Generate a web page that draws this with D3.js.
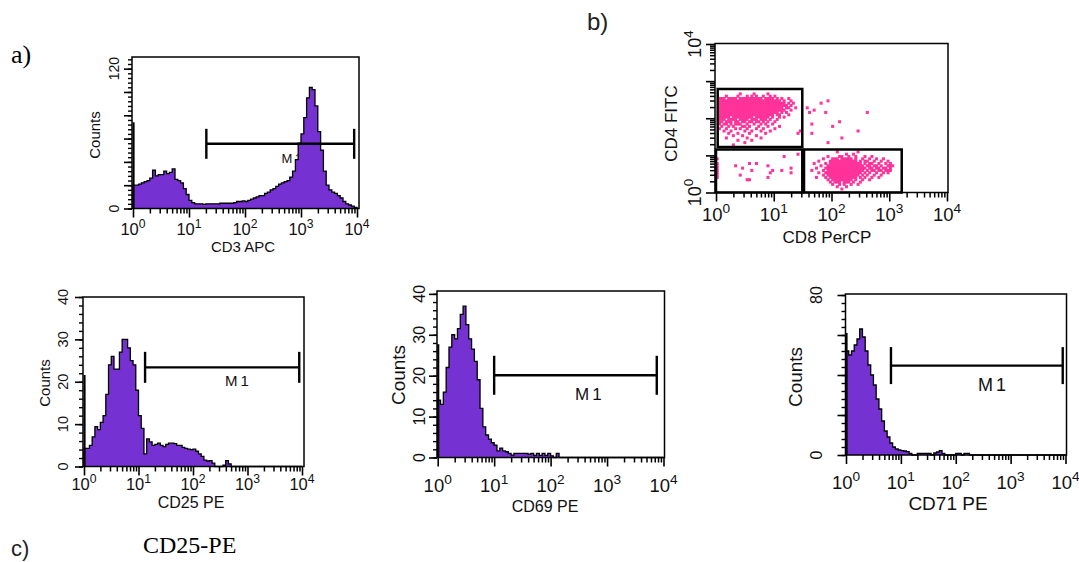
<!DOCTYPE html>
<html>
<head>
<meta charset="utf-8">
<script src="https://cdn.jsdelivr.net/npm/d3@7/dist/d3.min.js"></script>
<style>
html,body{margin:0;padding:0;background:#fff;}
svg{display:block;font-family:"Liberation Sans",Arial,Helvetica,sans-serif;}
</style>
</head>
<body>
<svg id="fig" width="1079" height="562"></svg>
<script>
// ================= DATA =================
const decades = [1, 10, 100, 1000, 10000];
const binLogWidth = 0.05; // each histogram bin spans 0.05 decade (80 bins over 4 decades)

const cd3Counts = [20,20,21,22,23,24,26,33,28,29,29,32,30,31,34,25,24,22,17,12,
  7,5,4,4,4,3.5,4,4,4,4,4,4.5,4.5,4.5,4.5,4.5,5,6,6,6.5,
  6,7,8,9,10,11,11,13,14,16,17,19,21,22,23,24,27,32,42,56,
  64,78,95,104,102,88,66,50,32,20,16,14,13,11,9,6,4,3,2,1];
const cd25Counts = [4.3,4.3,5,7,9.4,8.7,10.4,12,17,24,26,23,23,27,30,30,28,25,24,18,
  12,9,3,6.5,5.8,5,5.2,5.5,5,4.7,5.2,5.5,5.5,5.4,5,5,4.5,4.3,4.1,4,
  4.1,3.6,3,2.4,1.5,1.3,1.4,0.8,0,0,0,0.3,1.4,0.6,0,0,0,0,0,0,
  0,0,0,0,0,0,0,0,0,0,0,0,0,0,0,0,0,0,0,0];
const cd69Counts = [14,13,16,22,27,30,29,31.5,35,37,32.5,29,26.5,23.5,19,12,7.5,5.5,4.5,3.6,
  3,1.6,2.3,1.6,1.4,1,0.6,1,1,1,1,1,0.8,1,0.5,1,0.5,1,0.5,1,
  0.4,0,1,0,0,0,0,0,0,0,0,0,0,0,0,0,0,0,0,0,
  0,0,0,0,0,0,0,0,0,0,0,0,0,0,0,0,0,0,0,0];
const cd71Counts = [52,50,52,55,58,63,59,52,45,40,35,28,23,17,12,9,6,4,3,2.5,
  2.2,2,1.7,0.8,0,0,0.8,0.8,0.8,0.8,0.8,0,1,1.5,2.2,0.8,0,0,0,0,
  0.8,0.8,0,0.8,0.8,0,0,0,0,0,0,0,0,0,0,0,0,0,0,0,
  0,0,0,0,0,0,0,0,0,0,0,0,0,0,0,0,0,0,0,0];
const firstChannelCounts = [74, 21.6, 27.7, 61];

const cd3YLabels = [0, 120];
const cd25YLabels = [0, 10, 20, 30, 40];
const cd69YLabels = [0, 10, 20, 30, 40];
const cd71YLabels = [0, 80];
const histTitles = ["CD3 APC", "CD25 PE", "CD69 PE", "CD71 PE"];

const markerStart = [20.4, 13.2, 10, 6.6];
const markerEnd = [8900, 8900, 7600, 8900];
const markerLevel = [55.5, 23.4, 20.1, 44.7];

// dot plot (CD8 PerCP vs CD4 FITC): gates and occupied channels
const gateCd8 = [[1.07, 31.2], [1, 31.2], [33.4, 1644]];
const gateCd4 = [[16.8, 614], [1, 14.4], [1, 14.4]];
const cd4YLabels = [1, 10000];
const dotCellLog = [0.04, 0.0625]; // channel width in decades (CD8, CD4)
// [CD4 channel row, first CD8 channel, occupancy pattern]
const dotRows = [
  [42, 10, "#.....#.....#"],
  [41, 4, "#....#...#.#.#..#..#.#"],
  [40, 1, "###.####.##########.####.#.#..#"],
  [39, 1, "###########################.#..#"], [39, 48, "#"],
  [38, 1, "#############################.#.#"], [38, 45, "#"],
  [37, 1, "##############################.#"],
  [36, 1, "############################.##..#"], [36, 39, "#"],
  [35, 1, "#############################..#"], [35, 42, "#"],
  [34, 1, "##########################.#.#"], [34, 40, "#......#"], [34, 65, "#"],
  [33, 1, "########################.##...#"],
  [32, 1, "#####.#########.######.#..#.#"],
  [31, 1, "###.####.####.###.###.#..#"],
  [30, 1, "##.###.##.##.##.##.#.#..#"], [30, 53, "#"],
  [29, 1, "#.##.#.###..#..#..#.#..#"], [29, 41, "#"],
  [28, 2, "#..#.#...##.#...#...#....#"], [28, 50, "#"],
  [27, 1, "#..#...#.#..#...#..#....#"],
  [26, 3, "#..#.....#..#...#...#"], [26, 36, "#"], [26, 61, "#"],
  [25, 5, "#...#....#......#"], [25, 35, "#.....#"],
  [24, 7, "#...#.....#"],
  [23, 4, "#........#.....#"], [23, 54, "#"],
  [22, 9, "#.....#"],
  [21, 12, "#"], [21, 48, "#"],
  [20, 7, "#"],
  [17, 52, "#........#"],
  [16, 35, "#"], [16, 56, "#..#"],
  [15, 29, "#"], [15, 48, "#....##..#..#...#..#"],
  [14, 0, "#"], [14, 46, "#...###.#####.#..#..#..#..#"],
  [13, 44, "#....############.#.##..#..#..#"],
  [12, 0, "#"], [12, 14, "#..#"], [12, 42, "#....#.##############.#.##..#..#.#"],
  [11, 0, "#.......#"], [11, 22, "#"], [11, 45, "#..################.##.##.#..###"],
  [10, 0, "#..........#"], [10, 32, "#"], [10, 43, "#...##################.##.##.##.#"],
  [9, 0, "#"], [9, 15, "#........#...#"], [9, 41, "#....#.################.#.##.##.###"],
  [8, 0, "#"], [8, 23, "#........#"], [8, 44, "#..################.#.#..#..#.#"],
  [7, 0, "#.........#"], [7, 46, "#.##############.#.#..#..#"],
  [6, 0, "#"], [6, 22, "#"], [6, 43, "#...#.############.#.#..#..#"],
  [5, 13, "##"], [5, 48, "#.#########.#..#..#"],
  [4, 49, "#.###.###.#..#"],
  [3, 50, "#..#.#..#..#"],
  [2, 52, "#...#"],
  [1, 54, "#"]
];

// ================= LAYOUT =================
const PURPLE = "#7631d2", PINK = "#ff3399", INK = "#111";
const histLayouts = [
  {x0:133,x1:357,bx0:132,bx1:359,yb:208.5,yt:57,ymax:130,yMajor:20,yMinor:4,xlabY:235,xfs:16.5,ylabX:118.5,yfs:14,cntX:100,cntY:135,cntFs:15,titX:243,titY:252,titFs:15,mx:281.5,my:163.3,mfs:13,mls:2.5,mh:15},
  {x0:84,x1:302,bx0:83,bx1:304,yb:466.5,yt:297,ymax:40,yMajor:10,yMinor:2,xlabY:490,xfs:16.5,ylabX:68,yfs:14.5,cntX:50,cntY:383,cntFs:15,titX:191,titY:508,titFs:16,mx:225,my:386,mfs:15,mls:3,mh:15.5},
  {x0:437.7,x1:663.5,bx0:437,bx1:664.5,yb:457.5,yt:291,ymax:40.7,yMajor:10,yMinor:2,xlabY:491.5,xfs:18.5,ylabX:425,yfs:16,cntX:405,cntY:375,cntFs:19,titX:545,titY:512,titFs:16,mx:575,my:400,mfs:17,mls:3,mh:19.5},
  {x0:846,x1:1065.5,bx0:845.5,bx1:1066.5,yb:455,yt:294,ymax:80.5,yMajor:20,yMinor:4,xlabY:488.5,xfs:18.5,ylabX:822,yfs:16,cntX:802,cntY:377,cntFs:19,titX:948,titY:510,titFs:19,mx:978,my:391,mfs:18,mls:3,mh:18.5}
];

const svg = d3.select("#fig");

function logMinor() {
  const out = [];
  for (let k = 0; k < decades.length - 1; k++) for (let m = 2; m <= 9; m++) out.push(m * decades[k]);
  return out;
}
function tickGroup(g, axis, tx, ty, sw) {
  const s = g.append("g").attr("transform", `translate(${tx},${ty})`).call(axis);
  s.select(".domain").remove();
  s.selectAll("line").attr("stroke", "#000").attr("stroke-width", sw);
  return s;
}
function powLabel(t, v, fs) {
  t.append("tspan").text("10");
  t.append("tspan").attr("dy", -0.42 * fs).attr("font-size", 0.74 * fs).text(Math.round(Math.log10(v)));
}

// ================= HISTOGRAMS =================
const histCounts = [cd3Counts, cd25Counts, cd69Counts, cd71Counts];
const histYLabels = [cd3YLabels, cd25YLabels, cd69YLabels, cd71YLabels];

histLayouts.forEach((L, p) => {
  const counts = histCounts[p];
  const x = d3.scaleLog().domain([decades[0], decades[decades.length - 1]]).range([L.x0, L.x1]);
  const y = d3.scaleLinear().domain([0, L.ymax]).range([L.yb, L.yt]);
  const g = svg.append("g");

  // marker label (drawn beneath the histogram)
  g.append("text").attr("x", L.mx).attr("y", L.my).attr("font-size", L.mfs)
    .attr("letter-spacing", L.mls).attr("fill", INK).text("M1");

  const pts = [[decades[0], 0]];
  counts.forEach((c, i) => {
    pts.push([Math.pow(10, i * binLogWidth), c], [Math.pow(10, (i + 1) * binLogWidth), c]);
  });
  pts.push([decades[decades.length - 1], 0]);
  const area = d3.area().x(d => x(d[0])).y0(y(0)).y1(d => y(d[1]));
  const line = d3.line().x(d => x(d[0])).y(d => y(d[1]));
  g.append("path").attr("d", area(pts)).attr("fill", PURPLE);
  g.append("path").attr("d", line(pts)).attr("fill", "none").attr("stroke", "#000")
    .attr("stroke-width", 1.3).attr("stroke-linejoin", "miter");
  g.append("line").attr("x1", x(decades[0]) + 0.6).attr("x2", x(decades[0]) + 0.6)
    .attr("y1", y(0)).attr("y2", y(firstChannelCounts[p])).attr("stroke", "#000").attr("stroke-width", 2);

  // marker bar
  const my = y(markerLevel[p]);
  const mg = g.append("g").attr("stroke", "#000").attr("stroke-width", 2.4);
  mg.append("line").attr("x1", x(markerStart[p])).attr("x2", x(markerEnd[p])).attr("y1", my).attr("y2", my);
  [markerStart[p], markerEnd[p]].forEach(v => {
    mg.append("line").attr("x1", x(v)).attr("x2", x(v)).attr("y1", my - L.mh).attr("y2", my + L.mh);
  });

  // axes ticks
  tickGroup(g, d3.axisBottom(x).tickValues(logMinor()).tickSize(5).tickFormat(""), 0, L.yb, 1.5);
  tickGroup(g, d3.axisBottom(x).tickValues(decades).tickSize(9).tickFormat(""), 0, L.yb, 1.6);
  tickGroup(g, d3.axisLeft(y).tickValues(d3.range(0, L.ymax + 1e-6, L.yMinor)).tickSize(4).tickFormat(""), L.bx0, 0, 1.4);
  tickGroup(g, d3.axisLeft(y).tickValues(d3.range(0, L.ymax + 1e-6, L.yMajor)).tickSize(8).tickFormat(""), L.bx0, 0, 1.6);

  // frame
  g.append("rect").attr("x", L.bx0).attr("y", L.yt).attr("width", L.bx1 - L.bx0).attr("height", L.yb - L.yt)
    .attr("fill", "none").attr("stroke", "#000").attr("stroke-width", 1.5);

  // tick labels
  decades.forEach(v => {
    const t = g.append("text").attr("x", x(v)).attr("y", L.xlabY).attr("text-anchor", "middle")
      .attr("font-size", L.xfs).attr("fill", INK);
    powLabel(t, v, L.xfs);
  });
  histYLabels[p].forEach(v => {
    g.append("text").attr("transform", `translate(${L.ylabX},${y(v)}) rotate(-90)`)
      .attr("text-anchor", "middle").attr("font-size", L.yfs).attr("fill", INK).text(v);
  });
  g.append("text").attr("transform", `translate(${L.cntX},${L.cntY}) rotate(-90)`)
    .attr("text-anchor", "middle").attr("font-size", L.cntFs).attr("fill", INK).text("Counts");
  g.append("text").attr("x", L.titX).attr("y", L.titY).attr("text-anchor", "middle")
    .attr("font-size", L.titFs).attr("fill", INK).text(histTitles[p]);
});

// ================= DOT PLOT =================
(function () {
  const x = d3.scaleLog().domain([decades[0], decades[decades.length - 1]]).range([716, 947]);
  const y = d3.scaleLog().domain([decades[0], decades[decades.length - 1]]).range([192.5, 44]);
  const g = svg.append("g");
  const cells = [];
  dotRows.forEach(([r, c0, s]) => {
    for (let i = 0; i < s.length; i++) if (s[i] === "#") cells.push([c0 + i, r]);
  });
  const pad = 0.35;
  g.selectAll("rect.dot").data(cells).join("rect").attr("class", "dot")
    .attr("x", d => x(Math.pow(10, d[0] * dotCellLog[0])) - pad)
    .attr("width", d => x(Math.pow(10, (d[0] + 1) * dotCellLog[0])) - x(Math.pow(10, d[0] * dotCellLog[0])) + 2 * pad)
    .attr("y", d => y(Math.pow(10, (d[1] + 1) * dotCellLog[1])) - pad)
    .attr("height", d => y(Math.pow(10, d[1] * dotCellLog[1])) - y(Math.pow(10, (d[1] + 1) * dotCellLog[1])) + 2 * pad)
    .attr("fill", PINK);

  gateCd8.forEach((gx, i) => {
    const gy = gateCd4[i];
    g.append("rect").attr("x", x(gx[0])).attr("y", y(gy[1]))
      .attr("width", x(gx[1]) - x(gx[0])).attr("height", y(gy[0]) - y(gy[1]))
      .attr("fill", "none").attr("stroke", "#000").attr("stroke-width", 2.5);
  });

  tickGroup(g, d3.axisBottom(x).tickValues(logMinor()).tickSize(5).tickFormat(""), 0, 192.5, 1.5);
  tickGroup(g, d3.axisBottom(x).tickValues(decades).tickSize(9).tickFormat(""), 0, 192.5, 1.6);
  tickGroup(g, d3.axisLeft(y).tickValues(logMinor()).tickSize(5).tickFormat(""), 715, 0, 1.5);
  tickGroup(g, d3.axisLeft(y).tickValues(decades).tickSize(9).tickFormat(""), 715, 0, 1.6);

  g.append("rect").attr("x", 715).attr("y", 43.5).attr("width", 233).attr("height", 149)
    .attr("fill", "none").attr("stroke", "#000").attr("stroke-width", 1.5);

  decades.forEach(v => {
    const t = g.append("text").attr("x", x(v)).attr("y", 221).attr("text-anchor", "middle")
      .attr("font-size", 18.5).attr("fill", INK);
    powLabel(t, v, 18.5);
  });
  cd4YLabels.forEach(v => {
    const t = g.append("text").attr("transform", `translate(701,${y(v)}) rotate(-90)`)
      .attr("text-anchor", "middle").attr("font-size", 18).attr("fill", INK);
    powLabel(t, v, 18);
  });
  g.append("text").attr("transform", "translate(677,123.5) rotate(-90)").attr("text-anchor", "middle")
    .attr("font-size", 17).attr("fill", INK).text("CD4 FITC");
  g.append("text").attr("x", 827).attr("y", 243).attr("text-anchor", "middle")
    .attr("font-size", 17).attr("fill", INK).text("CD8 PerCP");
})();

// ================= PANEL LETTERS =================
svg.append("text").attr("x", 11).attr("y", 63).attr("font-family", '"Liberation Serif","Times New Roman",serif')
  .attr("font-size", 26).attr("fill", "#000").text("a)");
svg.append("text").attr("x", 587).attr("y", 30).attr("font-size", 24).attr("fill", "#222").text("b)");
svg.append("text").attr("x", 11).attr("y", 556).attr("font-size", 22).attr("fill", "#222").text("c)");
svg.append("text").attr("x", 143).attr("y", 553).attr("font-family", '"Liberation Serif","Times New Roman",serif')
  .attr("font-size", 24).attr("fill", "#000").text("CD25-PE");
</script>
</body>
</html>
